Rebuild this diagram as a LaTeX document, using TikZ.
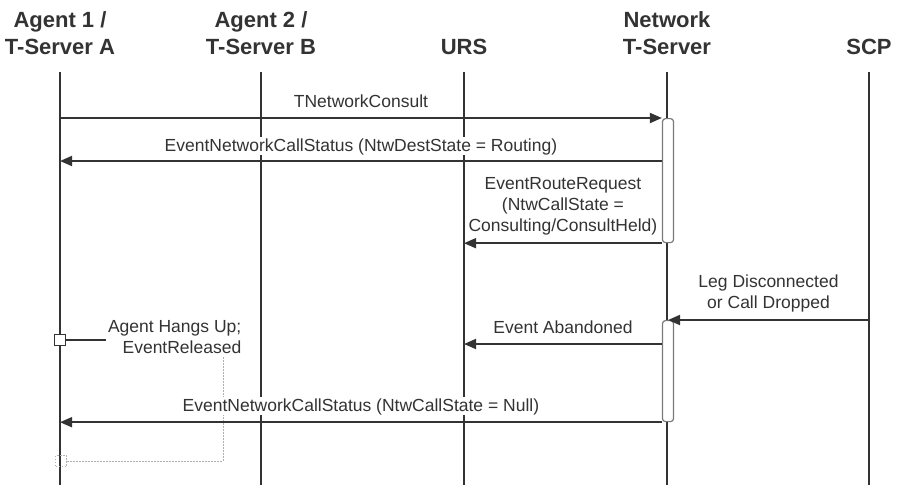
\documentclass[tikz,border=0pt]{standalone}
\usepackage{fontspec}
\setmainfont{Liberation Sans}
\usetikzlibrary{positioning, arrows.meta}

\definecolor{ink}{HTML}{333333}
\definecolor{boxline}{HTML}{7A7A7A}
\definecolor{dotline}{HTML}{B0B0B0}

\tikzset{
	actor/.style={font=\bfseries\fontsize{22}{27}\selectfont, align=center, inner sep=0pt, anchor=south, text=ink},
	msg/.style={font=\fontsize{17.5}{21}\selectfont, align=center, fill=white, inner sep=1.5pt, text depth=0.25em, text=ink},
	lifeline/.style={draw=ink, line width=2pt},
	activation/.style={draw=boxline, fill=white, rounded corners=3pt, minimum width=11pt, inner sep=0pt, line width=1.2pt, anchor=north},
	call/.style={ink, line width=1.8pt, -{Triangle[length=12pt, width=10pt]}},
	marker/.style={draw=ink, line width=1.2pt, minimum size=11pt, inner sep=0pt, fill=white},
	dotmarker/.style={draw=dotline, line width=1pt, dash pattern=on 1.5pt off 1.5pt, minimum size=11pt, inner sep=0pt}
}

\begin{document}
\begin{tikzpicture} [x=1pt, y=-1pt]

\useasboundingbox (0,0) rectangle (902,485);

% participants
\node[actor] (agA) 	at (60,55) 	{Agent 1 / \\ T-Server A};
\node[actor] (agB) 	at (261,55) 	{Agent 2 / \\ T-Server B};
\node[actor] (urs) 	at (464,55) 	{URS};
\node[actor] (net) 	at (667,55) 	{Network \\ T-Server};
\node[actor] (scp) 	at (869,55) 	{SCP};

\coordinate (top) 	at (0,72);
\coordinate (bot) 	at (0,485);
\coordinate (rowB) 	at (0,161);
\coordinate (rowE) 	at (0,344);

% lifelines
\foreach \p in {agA, agB, urs, net, scp}
	\draw[lifeline] (\p |- top) -- (\p |- bot);

% activation boxes
\node[activation, minimum height=124pt] 	(act1) 	at (668,118) 	{};
\node[activation, minimum height=101pt] 	(act2) 	at (668,320) 	{};

% hang up note
\node[marker] 		(hangup) 	at (60,340) 	{};
\node[msg, align=right, anchor=east] 	(hangtxt) 	at (243,338) 	{Agent Hangs Up; \\ EventReleased};
\node[dotmarker] 	(release) 	at (61,461) 	{};

\draw[ink, line width=1.5pt] (hangup.east) -- (hangup.east -| hangtxt.west);
\draw[dotline, line width=1pt, dash pattern=on 1.5pt off 1.5pt] ([xshift=-20pt]hangtxt.south east) |- (release.east);

% messages
\path[call]
		(agA |- act1.north)	edge	node	[msg, above=6pt]	{TNetworkConsult}	(act1.north west)
		(act1.west |- rowB)	edge	node	[msg, above=5pt]	{EventNetworkCallStatus (NtwDestState = Routing)}	(agA |- rowB)
		(act1.south west)	edge	node	[msg, above=7pt]	{EventRouteRequest \\ (NtwCallState = \\ Consulting/ConsultHeld)}	(urs |- act1.south)
		(scp |- act2.north)	edge	node	[msg, above=7pt]	{Leg Disconnected \\ or Call Dropped}	(act2.north)
		(act2.west |- rowE)	edge	node	[msg, above=6pt]	{Event Abandoned}	(urs |- rowE)
		(act2.south west)	edge	node	[msg, above=6pt]	{EventNetworkCallStatus (NtwCallState = Null)}	(agA |- act2.south)
;

\end{tikzpicture}
\end{document}
